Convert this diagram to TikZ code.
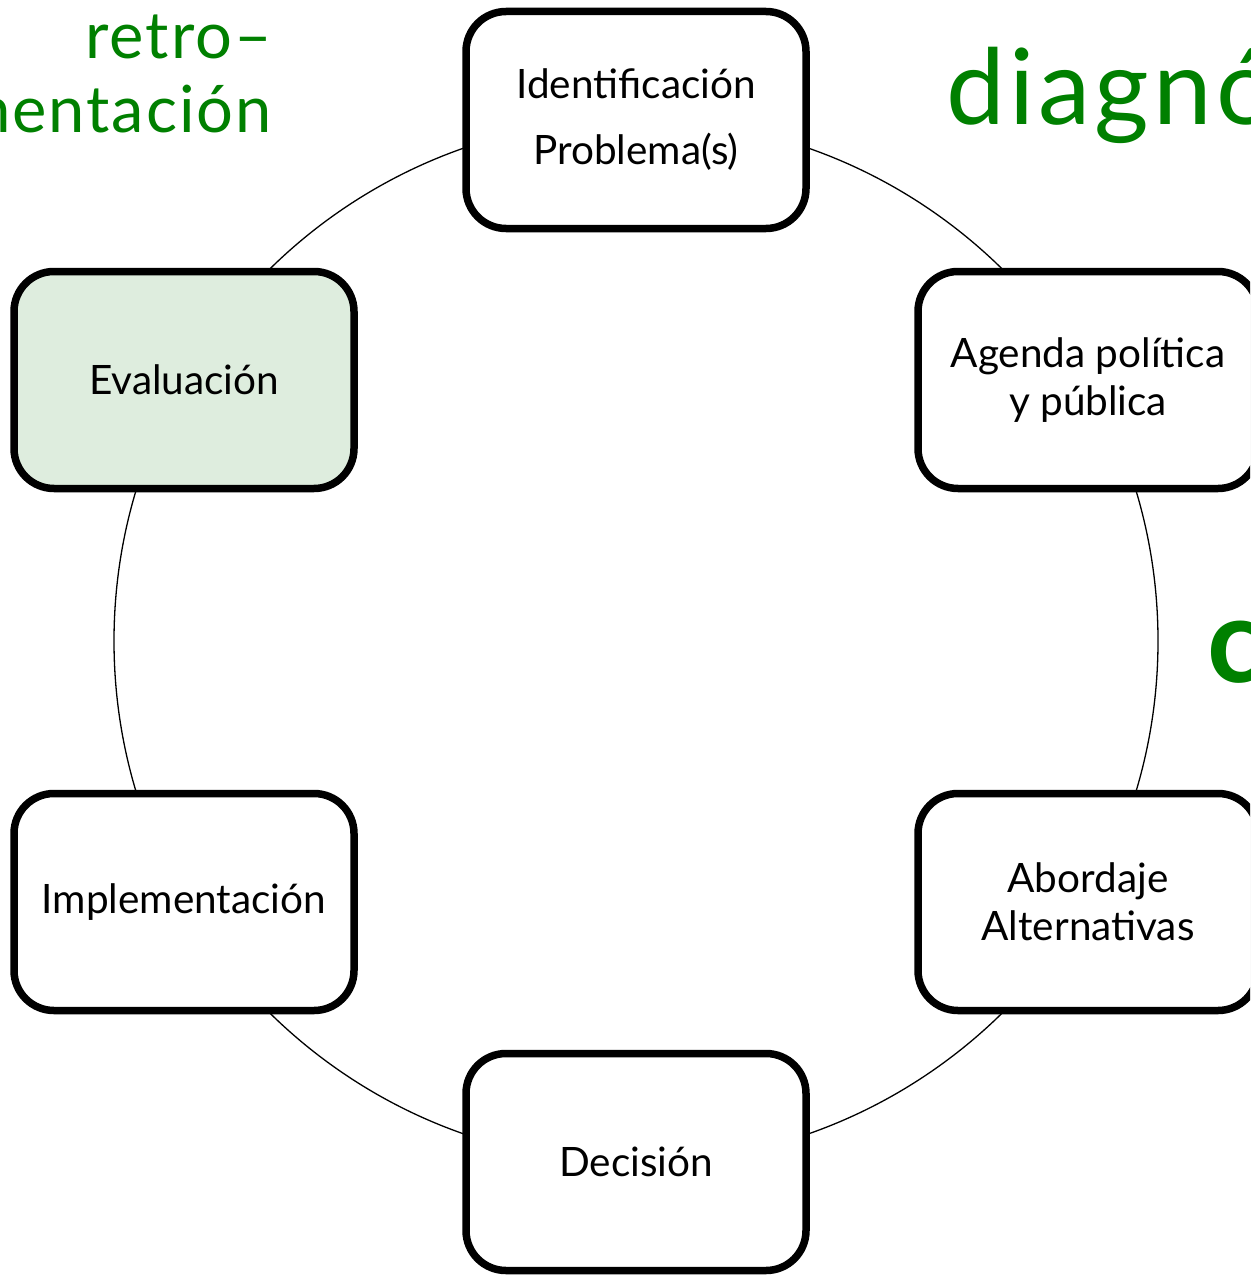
\documentclass[tikz,border=0pt]{standalone}
\usepackage{fontspec}
\setmainfont{Lato}
\newfontfamily\widelato[LetterSpace=3]{Lato}
\newfontfamily\widerlato[LetterSpace=4]{Lato}
\usetikzlibrary{shadows}
\definecolor{dgreen}{RGB}{0,128,0}
\definecolor{evalfill}{RGB}{222,237,222}
\tikzset{
  stage/.style={draw=black, line width=7.5pt, rounded corners=40pt, fill=white,
    minimum width=340pt, minimum height=217pt, align=center, inner sep=0pt,
    font=\fontsize{40.5}{48}\selectfont,
    drop shadow={opacity=0.3, shadow xshift=2pt, shadow yshift=-3pt}},
  bigword/.style={text=dgreen, inner sep=0pt},
  ring/.style={draw=black, line width=1.3pt}
}
\begin{document}
\begin{tikzpicture}[x=1pt,y=-1pt]
\useasboundingbox (0,0) rectangle (1250,1276);
\clip (0,0) rectangle (1250,1276);
\fill[white] (0,0) rectangle (1250,1276);
\coordinate (c) at (636,641);
\draw[ring] (c) circle[radius=522pt];
% green words
\node[bigword, anchor=base east, font=\fontsize{65}{74}\selectfont\widelato] (retro) at (272,59) {retro–};
\node[bigword, anchor=base east, font=\fontsize{65}{74}\selectfont\widelato] (mentacion) at (272,133) {mentación};
\node[bigword, anchor=base west, font=\fontsize{105}{120}\selectfont\widerlato] (diag) at (946,125) {diagnó};
\node[bigword, anchor=base west, font=\fontsize{118}{130}\selectfont\bfseries] (cword) at (1207,682) {c};
% stages
\node[stage] (ident) at (636,120) {Identificación\\[18pt]Problema(s)};
\node[stage] (agenda) at (1088,380) {Agenda política\\y pública};
\node[stage] (abord) at (1088,902) {Abordaje\\Alternativas};
\node[stage] (decis) at (636,1162) {Decisión};
\node[stage] (impl) at (184,902) {Implementación};
\node[stage, fill=evalfill] (eval) at (184,380) {Evaluación};
\end{tikzpicture}
\end{document}
